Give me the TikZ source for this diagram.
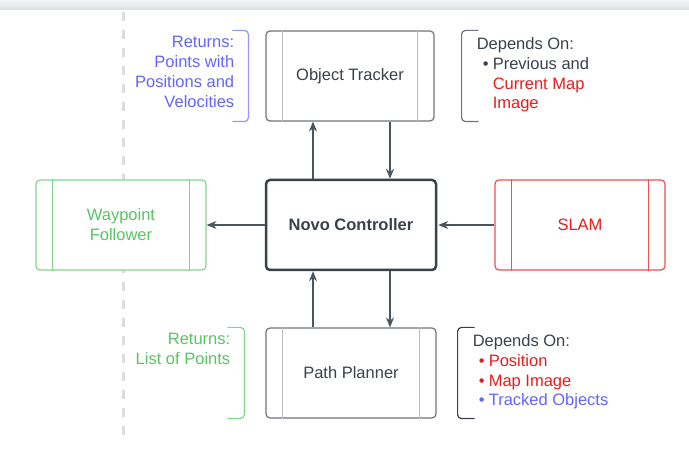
\documentclass[tikz,border=0pt]{standalone}
\usepackage{fontspec}
\setmainfont{Liberation Sans}
\usepackage{tikz}
\usetikzlibrary{positioning,calc,arrows.meta}
\definecolor{NovoInk}{RGB}{58, 65, 74}
\definecolor{NovoArrow}{RGB}{78, 84, 92}
\definecolor{NovoFrame}{RGB}{112, 117, 124}
\definecolor{NovoRule}{RGB}{186, 189, 195}
\definecolor{NovoGreen}{RGB}{88, 196, 100}
\definecolor{NovoGreenLt}{RGB}{130, 214, 140}
\definecolor{NovoRed}{RGB}{232, 28, 28}
\definecolor{NovoRedLt}{RGB}{240, 80, 80}
\definecolor{NovoPurple}{RGB}{100, 100, 250}
\definecolor{NovoPurpleLt}{RGB}{150, 150, 255}
\definecolor{NovoDash}{RGB}{220, 221, 223}
\definecolor{NovoBarTop}{RGB}{244, 245, 247}
\definecolor{NovoBarBot}{RGB}{222, 223, 226}
\newcommand{\novofont}{\fontsize{16.5}{19.8}\selectfont}
\tikzset{
  procbox/.style={draw=NovoFrame, fill=white, rectangle, rounded corners=4pt, line width=1.2pt,
    minimum width=170pt, minimum height=90pt, align=center, font=\novofont, text=NovoInk},
  ctrlbox/.style={procbox, draw=NovoInk, line width=2.5pt, font=\novofont\bfseries},
  flow/.style={-{Stealth[length=10pt,width=8pt]}, line width=1.2pt, draw=NovoArrow},
  note/.style={inner sep=0pt, font=\novofont},
  bracketline/.style={rounded corners=4pt, line width=1.2pt}
}

\begin{document}
\begin{tikzpicture}[x=1pt, y=-1pt]
    \useasboundingbox (0,0) rectangle (689,449);
    % Top bar and divider
    \shade[top color=NovoBarTop, bottom color=NovoBarBot] (0,0) rectangle (689,10);
    \draw[NovoDash, line width=3pt, dash pattern=on 9pt off 9pt] (123,12) -- (123,440);

    % Nodes
    \node [ctrlbox] (ctrl) at (351,225) {Novo Controller};
    \node [procbox, minimum width=168pt] (tracker) at (350,76) {Object Tracker};
    \node [procbox] (planner) at (351,373) {Path Planner};
    \node [procbox, draw=NovoGreenLt, text=NovoGreen] (follower) at (121,225) {Waypoint\\Follower};
    \node [procbox, draw=NovoRedLt, text=NovoRed] (slam) at (580,225) {SLAM};

    % Side rules inside the boxes
    \foreach \n/\c in {tracker/NovoRule, planner/NovoRule, follower/NovoGreenLt, slam/NovoRedLt} {
      \draw[\c, line width=1.2pt] ([xshift=17pt]\n.north west) -- ([xshift=17pt]\n.south west);
      \draw[\c, line width=1.2pt] ([xshift=-17pt]\n.north east) -- ([xshift=-17pt]\n.south east);
    }

    % Paths
    \draw[flow] ([xshift=-38pt]ctrl.north) -- ([xshift=-37pt]tracker.south);
    \draw[flow] ([xshift=40pt]tracker.south) -- ([xshift=39pt]ctrl.north);
    \draw[flow] (ctrl.west) -- (follower.east);
    \draw[flow, shorten >=1pt] (slam.west) -- (ctrl.east);
    \draw[flow] ([xshift=39pt]ctrl.south) -- ([xshift=39pt]planner.north);
    \draw[flow] ([xshift=-38pt]planner.north) -- ([xshift=-38pt]ctrl.south);

    % Annotations
    \draw[bracketline, NovoPurpleLt] ([xshift=-33pt]tracker.north west) -- ([xshift=-17pt]tracker.north west)
      -- ([xshift=-17pt]tracker.south west) -- ([xshift=-33pt]tracker.south west);
    \node [note, anchor=north east, align=right, text=NovoPurple] (trackerret) at ([xshift=-31pt,yshift=-6pt]tracker.north west)
      {Returns:\\Points with\\Positions and\\Velocities};

    \draw[bracketline, NovoFrame] ([xshift=44pt]tracker.north east) -- ([xshift=27pt]tracker.north east)
      -- ([xshift=27pt]tracker.south east) -- ([xshift=44pt]tracker.south east);
    \node [note, anchor=north west, align=left, text=NovoInk] (trackerdeps) at ([xshift=42pt,yshift=-7pt]tracker.north east)
      {Depends On:\\\hspace*{6pt}\makebox[10pt][l]{\textbullet}Previous and\\\hspace*{16pt}{\color{NovoRed}Current Map}\\\hspace*{16pt}{\color{NovoRed}Image}};

    \draw[bracketline, NovoGreenLt] ([xshift=-38pt]planner.north west) -- ([xshift=-21pt]planner.north west)
      -- ([xshift=-21pt]planner.south west) -- ([xshift=-38pt]planner.south west);
    \node [note, anchor=north east, align=right, text=NovoGreen] (plannerret) at ([xshift=-35pt,yshift=-6pt]planner.north west)
      {Returns:\\List of Points};

    \draw[bracketline, NovoInk] ([xshift=38pt]planner.north east) -- ([xshift=21pt]planner.north east)
      -- ([xshift=21pt]planner.south east) -- ([xshift=38pt]planner.south east);
    \node [note, anchor=north west, align=left, text=NovoInk] (plannerdeps) at ([xshift=36pt,yshift=-7pt]planner.north east)
      {Depends On:\\\hspace*{6pt}{\color{NovoRed}\makebox[10pt][l]{\textbullet}Position}\\\hspace*{6pt}{\color{NovoRed}\makebox[10pt][l]{\textbullet}Map Image}\\\hspace*{6pt}{\color{NovoPurple}\makebox[10pt][l]{\textbullet}Tracked Objects}};
  \end{tikzpicture}
\end{document}
